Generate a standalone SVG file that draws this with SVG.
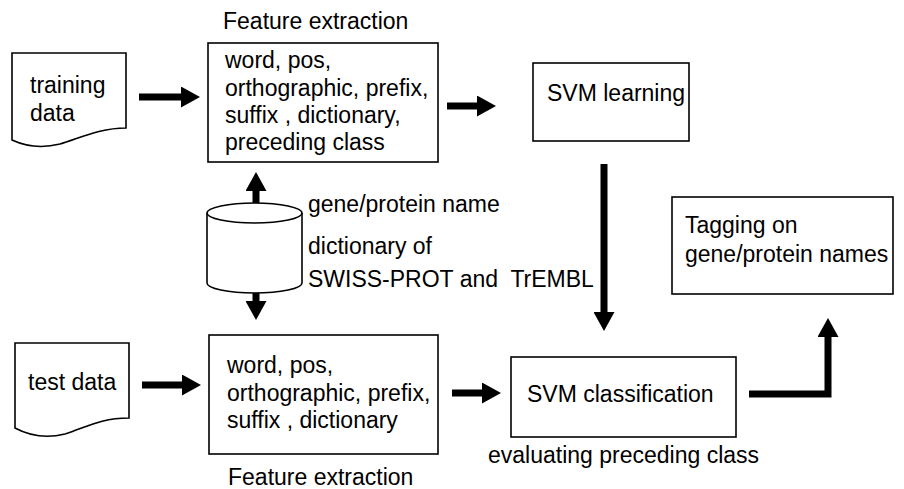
<svg xmlns="http://www.w3.org/2000/svg" width="904" height="489" viewBox="0 0 904 489">
<style>
text{font-family:"Liberation Sans",Arial,sans-serif;font-size:23px;fill:#000;white-space:pre}
.box{fill:#fff;stroke:#000;stroke-width:1.6}
.conn{fill:none;stroke:#000;stroke-width:7}
</style>
<defs>
<marker id="ah" markerUnits="userSpaceOnUse" markerWidth="20" markerHeight="21" refX="1" refY="10.5" orient="auto" viewBox="0 0 20 21">
<path d="M0,0 L19,10.5 L0,21 Z" fill="#000"/>
</marker>
</defs>
<rect width="904" height="489" fill="#fff"/>
<g id="connectors">
<path class="conn" d="M139,97 H182" marker-end="url(#ah)"/>
<path class="conn" d="M447,106 H478" marker-end="url(#ah)"/>
<path class="conn" d="M604,164 V313" marker-end="url(#ah)"/>
<path class="conn" d="M256,208 V190" marker-end="url(#ah)"/>
<path class="conn" d="M256,283 V302" marker-end="url(#ah)"/>
<path class="conn" d="M142,385 H183" marker-end="url(#ah)"/>
<path class="conn" d="M452,393 H483" marker-end="url(#ah)"/>
<path class="conn" d="M749,394 H828 V336" marker-end="url(#ah)"/>
</g>
<g id="training-data">
<path class="box" d="M12,140 V53 H126 V128 C100,128 80,138 60,144 C40,149 25,146 12,140 Z"/>
<text x="30" y="93">training</text>
<text x="30" y="121">data</text>
</g>
<g id="feature-extraction-train">
<text x="223" y="29">Feature extraction</text>
<rect class="box" x="208" y="43" width="230" height="119"/>
<text x="225" y="68">word, pos,</text>
<text x="225" y="96">orthographic, prefix,</text>
<text x="225" y="123">suffix , dictionary,</text>
<text x="225" y="150">preceding class</text>
</g>
<g id="svm-learning">
<rect class="box" x="533" y="63" width="156" height="78"/>
<text x="547" y="101">SVM learning</text>
</g>
<g id="dictionary">
<path class="box" d="M207,213 V283 A47.5,10 0 0 0 302,283 V213"/>
<ellipse class="box" cx="254.5" cy="213" rx="47.5" ry="10"/>
<text x="308" y="212">gene/protein name</text>
<text x="308" y="254">dictionary of</text>
<text x="308" y="287">SWISS-PROT and  TrEMBL</text>
</g>
<g id="test-data">
<path class="box" d="M15,428 V343 H129 V418 C100,418 85,428 65,434 C45,439 30,436 15,428 Z"/>
<text x="28" y="390">test data</text>
</g>
<g id="feature-extraction-test">
<rect class="box" x="209" y="335" width="229" height="119"/>
<text x="227" y="373">word, pos,</text>
<text x="227" y="401">orthographic, prefix,</text>
<text x="227" y="428">suffix , dictionary</text>
<text x="228" y="485">Feature extraction</text>
</g>
<g id="svm-classification">
<rect class="box" x="511" y="357" width="225" height="80"/>
<text x="527" y="402">SVM classification</text>
<text x="488" y="463">evaluating preceding class</text>
</g>
<g id="tagging">
<rect class="box" x="672" y="197" width="221" height="97"/>
<text x="685" y="233">Tagging on</text>
<text x="685" y="262">gene/protein names</text>
</g>
</svg>
